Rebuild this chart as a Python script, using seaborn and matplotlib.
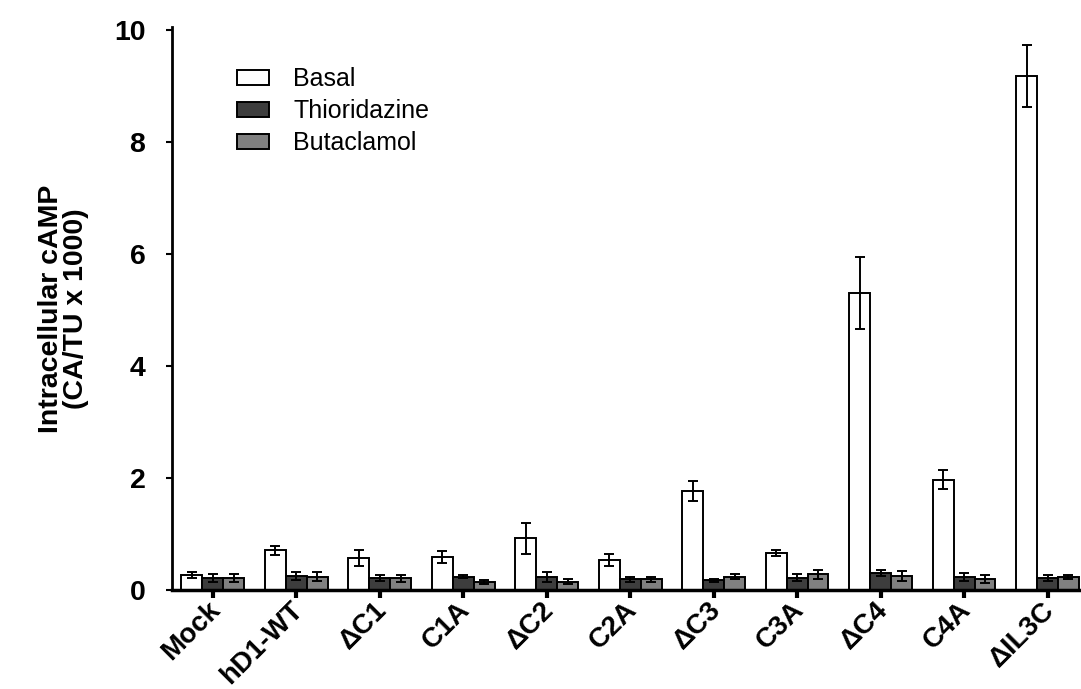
import matplotlib
matplotlib.use("Agg")
import matplotlib.pyplot as plt
import matplotlib.transforms as mtransforms
import seaborn as sns
import pandas as pd

constructs = ["Mock", "hD1-WT", "ΔC1", "C1A", "ΔC2", "C2A",
              "ΔC3", "C3A", "ΔC4", "C4A", "ΔIL3C"]
conditions = ["Basal", "Thioridazine", "Butaclamol"]

basal = [0.27, 0.71, 0.57, 0.59, 0.92, 0.53, 1.76, 0.66, 5.30, 1.97, 9.17]
basal_err = [0.05, 0.08, 0.15, 0.11, 0.28, 0.11, 0.18, 0.06, 0.64, 0.17, 0.55]
thioridazine = [0.22, 0.25, 0.21, 0.24, 0.23, 0.19, 0.17, 0.22, 0.30, 0.23, 0.21]
thioridazine_err = [0.07, 0.07, 0.05, 0.03, 0.09, 0.04, 0.03, 0.06, 0.05, 0.07, 0.05]
butaclamol = [0.22, 0.24, 0.21, 0.14, 0.15, 0.19, 0.24, 0.28, 0.25, 0.19, 0.23]
butaclamol_err = [0.07, 0.08, 0.06, 0.03, 0.04, 0.05, 0.05, 0.08, 0.09, 0.07, 0.03]

colors = {"Basal": "#ffffff", "Thioridazine": "#3d3d3d", "Butaclamol": "#808080"}

means = {"Basal": basal, "Thioridazine": thioridazine, "Butaclamol": butaclamol}
errs = {"Basal": basal_err, "Thioridazine": thioridazine_err, "Butaclamol": butaclamol_err}

rows = []
for cond in conditions:
    for c, m, e in zip(constructs, means[cond], errs[cond]):
        rows.append({"construct": c, "condition": cond, "value": m, "err": e})
df = pd.DataFrame(rows)

sns.set_theme(style="ticks")
plt.rcParams["font.family"] = ["Liberation Sans", "DejaVu Sans"]
for key in ["text.color", "axes.labelcolor", "xtick.color", "ytick.color",
            "axes.edgecolor"]:
    plt.rcParams[key] = "black"

fig = plt.figure(figsize=(10.81, 6.89), dpi=100)
ax = fig.add_axes([0.159, 0.1437, 0.841, 0.8173])

sns.barplot(data=df, x="construct", y="value", hue="condition",
            order=constructs, hue_order=conditions, palette=colors,
            width=0.75, edgecolor="black", linewidth=1.4, errorbar=None,
            ax=ax, legend=True, zorder=2)

# error bars placed at the centre of each drawn bar
for cont, cond in zip(ax.containers, conditions):
    xs = [p.get_x() + p.get_width() / 2 for p in cont.patches]
    ys = [p.get_height() for p in cont.patches]
    ax.errorbar(xs, ys, yerr=errs[cond], fmt="none", ecolor="black",
                elinewidth=1.4, capsize=3.5, capthick=1.4, zorder=3)

ax.set_xlim(-0.49, 10.4)
ax.set_ylim(0, 10.05)
ax.set_yticks([0, 2, 4, 6, 8, 10])
ax.set_xlabel("")
ax.set_ylabel("Intracellular cAMP\n(CA/TU x 1000)",
              fontsize=20.5, fontweight="bold", labelpad=18, linespacing=0.95)

for s in ["top", "right"]:
    ax.spines[s].set_visible(False)
ax.spines["left"].set_linewidth(2)
ax.spines["bottom"].set_linewidth(2.5)

ax.tick_params(axis="y", direction="out", length=4, width=1.5,
               labelsize=20.5, pad=15)
ax.tick_params(axis="x", direction="out", length=6, width=3,
               labelsize=20, pad=1)
for t in ax.get_yticklabels():
    t.set_fontweight("bold")
shift = mtransforms.ScaledTranslation(-6 / 100, 3 / 100, fig.dpi_scale_trans)
for t in ax.get_xticklabels():
    t.set_fontweight("bold")
    t.set_rotation(45)
    t.set_ha("right")
    t.set_rotation_mode("anchor")
    t.set_transform(t.get_transform() + shift)

leg = ax.legend(loc="upper left", bbox_to_anchor=(0.0715, 0.928),
                frameon=False, fontsize=18, handlelength=1.3,
                handleheight=0.55, labelspacing=0.32, handletextpad=0.95,
                borderpad=0, borderaxespad=0)

fig.savefig("out.png", dpi=100)
